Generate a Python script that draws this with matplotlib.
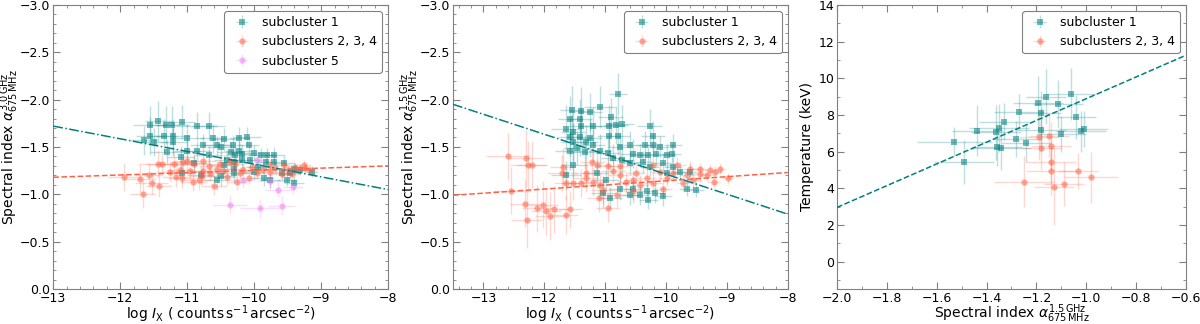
import matplotlib
matplotlib.use("Agg")
import matplotlib.pyplot as plt
import numpy as np
from matplotlib.ticker import MultipleLocator

# ---------------- panel 1: alpha(675 MHz - 3.0 GHz) vs log I_X ----------------
p1_s1_x = [-11.56, -11.43, -11.32, -11.22, -11.08, -10.85, -10.68, -11.56, -11.35, -11.21,
           -11.50, -11.65, -11.21, -11.00, -10.76, -10.61, -10.45, -10.10, -10.23, -10.50,
           -11.00, -11.30, -10.85, -10.68, -10.56, -10.31, -10.23, -10.08, -10.35, -10.28,
           -10.18, -10.00, -10.40, -10.30, -10.18, -10.06, -9.90, -9.81, -9.71, -9.83,
           -9.71, -9.56, -9.41, -9.46, -9.31, -9.14, -9.58, -9.76, -9.51, -9.41,
           -9.86, -10.30, -10.50, -10.80, -11.08, -10.90, -10.30, -10.45, -9.95, -10.56,
           -11.10, -10.00]
p1_s1_y = [-1.73, -1.77, -1.73, -1.73, -1.76, -1.72, -1.72, -1.62, -1.62, -1.62,
           -1.55, -1.57, -1.55, -1.59, -1.52, -1.59, -1.58, -1.61, -1.59, -1.50,
           -1.46, -1.45, -1.46, -1.41, -1.52, -1.52, -1.46, -1.52, -1.45, -1.41,
           -1.43, -1.44, -1.36, -1.34, -1.36, -1.36, -1.41, -1.41, -1.42, -1.34,
           -1.34, -1.33, -1.27, -1.22, -1.26, -1.24, -1.22, -1.15, -1.15, -1.12,
           -1.17, -1.22, -1.19, -1.20, -1.22, -1.33, -1.27, -1.31, -1.29, -1.15,
           -1.39, -1.24]
p1_s1_xerr = [0.25, 0.2, 0.2, 0.25, 0.2, 0.3, 0.25, 0.2, 0.2, 0.25,
              0.2, 0.2, 0.2, 0.25, 0.2, 0.2, 0.2, 0.2, 0.15, 0.2,
              0.2, 0.25, 0.2, 0.2, 0.2, 0.15, 0.2, 0.15, 0.2, 0.15,
              0.15, 0.2, 0.2, 0.15, 0.15, 0.15, 0.2, 0.15, 0.15, 0.15,
              0.15, 0.15, 0.15, 0.15, 0.15, 0.1, 0.15, 0.15, 0.15, 0.15,
              0.15, 0.2, 0.2, 0.2, 0.2, 0.2, 0.15, 0.2, 0.15, 0.2,
              0.2, 0.15]
p1_s1_yerr = [0.2, 0.22, 0.2, 0.2, 0.18, 0.15, 0.15, 0.2, 0.18, 0.18,
              0.15, 0.15, 0.15, 0.15, 0.12, 0.15, 0.12, 0.1, 0.12, 0.12,
              0.12, 0.12, 0.1, 0.1, 0.1, 0.1, 0.1, 0.08, 0.1, 0.1,
              0.08, 0.08, 0.1, 0.1, 0.08, 0.08, 0.08, 0.08, 0.08, 0.08,
              0.08, 0.08, 0.06, 0.06, 0.06, 0.06, 0.06, 0.08, 0.06, 0.06,
              0.08, 0.1, 0.1, 0.1, 0.1, 0.1, 0.08, 0.1, 0.08, 0.1,
              0.12, 0.08]

p1_s234_x = [-11.94, -11.71, -11.57, -11.53, -11.42, -11.66, -11.44, -11.37, -11.20, -11.26,
             -11.17, -11.11, -11.06, -11.00, -10.90, -10.91, -10.83, -10.77, -10.76, -10.66,
             -10.60, -10.51, -10.47, -10.41, -10.36, -10.28, -10.26, -10.16, -10.08, -10.03,
             -9.96, -9.87, -9.77, -9.69, -9.59, -9.49, -9.39, -9.31, -9.24, -9.17,
             -10.96, -11.08, -10.78, -10.56, -9.76, -9.44, -10.21, -10.68, -9.56, -9.26]
p1_s234_y = [-1.18, -1.16, -1.20, -1.12, -1.09, -1.00, -1.32, -1.32, -1.32, -1.24,
             -1.18, -1.26, -1.34, -1.35, -1.32, -1.13, -1.15, -1.35, -1.25, -1.23,
             -1.09, -1.32, -1.25, -1.18, -1.34, -1.32, -1.13, -1.26, -1.17, -1.29,
             -1.23, -1.27, -1.24, -1.28, -1.21, -1.26, -1.29, -1.27, -1.28, -1.26,
             -1.25, -1.17, -1.19, -1.27, -1.31, -1.21, -1.23, -1.30, -1.31, -1.31]
p1_s234_xerr = [0.25, 0.25, 0.2, 0.25, 0.2, 0.2, 0.3, 0.25, 0.25, 0.2,
                0.2, 0.2, 0.2, 0.2, 0.2, 0.2, 0.2, 0.2, 0.2, 0.15,
                0.2, 0.15, 0.15, 0.15, 0.15, 0.15, 0.15, 0.15, 0.15, 0.15,
                0.15, 0.15, 0.15, 0.12, 0.12, 0.12, 0.12, 0.1, 0.1, 0.1,
                0.2, 0.2, 0.2, 0.15, 0.12, 0.12, 0.15, 0.15, 0.12, 0.1]
p1_s234_yerr = [0.15, 0.15, 0.12, 0.12, 0.12, 0.15, 0.15, 0.12, 0.12, 0.1,
                0.1, 0.1, 0.1, 0.1, 0.1, 0.1, 0.1, 0.08, 0.08, 0.08,
                0.1, 0.08, 0.08, 0.08, 0.08, 0.06, 0.08, 0.06, 0.06, 0.06,
                0.06, 0.06, 0.06, 0.05, 0.05, 0.05, 0.05, 0.05, 0.05, 0.05,
                0.1, 0.1, 0.08, 0.08, 0.06, 0.05, 0.06, 0.08, 0.05, 0.05]

p1_s5_x = [-9.96, -10.17, -9.76, -9.64, -9.42, -10.36, -9.91, -9.59]
p1_s5_y = [-1.36, -1.15, -1.14, -1.05, -1.08, -0.89, -0.85, -0.88]
p1_s5_xerr = [0.15, 0.2, 0.2, 0.2, 0.15, 0.25, 0.3, 0.2]
p1_s5_yerr = [0.08, 0.08, 0.08, 0.08, 0.08, 0.1, 0.1, 0.1]

# fits: alpha = slope * logI + intercept
p1_fit_s1 = (0.134, 0.022)
p1_fit_s234 = (-0.024, -1.492)

# ---------------- panel 2: alpha(675 MHz - 1.5 GHz) vs log I_X ----------------
p2_s1_x = [-10.79, -11.09, -11.39, -11.54, -11.57, -11.42, -11.25, -10.91, -10.93, -10.82,
           -10.73, -10.27, -11.64, -11.53, -11.39, -11.20, -10.94, -10.79, -10.21, -11.58,
           -11.42, -11.25, -11.53, -11.31, -11.20, -11.58, -11.47, -11.33, -11.09, -10.95,
           -10.76, -10.59, -10.35, -10.21, -10.10, -10.54, -10.43, -10.29, -10.16, -9.99,
           -9.88, -9.91, -10.87, -10.73, -10.59, -10.38, -10.27, -10.05, -9.88, -9.77,
           -9.99, -9.61, -11.53, -11.64, -11.14, -10.98, -10.76, -10.54, -10.32, -10.18,
           -11.03, -10.92, -10.59, -10.43, -10.29, -10.05, -9.66, -9.50]
p2_s1_y = [-2.06, -1.92, -1.88, -1.89, -1.79, -1.79, -1.87, -1.82, -1.72, -1.73,
           -1.74, -1.72, -1.69, -1.66, -1.72, -1.72, -1.62, -1.62, -1.62, -1.60,
           -1.60, -1.59, -1.55, -1.55, -1.52, -1.46, -1.49, -1.45, -1.46, -1.44,
           -1.50, -1.52, -1.52, -1.52, -1.50, -1.43, -1.41, -1.41, -1.43, -1.41,
           -1.52, -1.43, -1.38, -1.36, -1.33, -1.34, -1.29, -1.33, -1.29, -1.24,
           -1.22, -1.24, -1.31, -1.20, -1.22, -1.15, -1.06, -1.06, -1.03, -1.01,
           -1.01, -0.96, -0.99, -0.99, -0.94, -0.98, -1.06, -1.05]
p2_s1_xerr = [0.15, 0.25, 0.2, 0.2, 0.2, 0.2, 0.2, 0.2, 0.25, 0.2,
              0.2, 0.2, 0.25, 0.2, 0.2, 0.25, 0.2, 0.2, 0.2, 0.2,
              0.2, 0.2, 0.2, 0.2, 0.2, 0.25, 0.2, 0.2, 0.2, 0.2,
              0.2, 0.2, 0.15, 0.15, 0.15, 0.2, 0.15, 0.15, 0.15, 0.15,
              0.15, 0.15, 0.2, 0.2, 0.15, 0.15, 0.15, 0.15, 0.15, 0.12,
              0.15, 0.12, 0.2, 0.25, 0.2, 0.2, 0.2, 0.15, 0.15, 0.15,
              0.2, 0.2, 0.15, 0.15, 0.15, 0.15, 0.12, 0.12]
p2_s1_yerr = [0.22, 0.22, 0.25, 0.25, 0.25, 0.22, 0.2, 0.2, 0.22, 0.2,
              0.2, 0.18, 0.25, 0.22, 0.2, 0.2, 0.2, 0.2, 0.15, 0.2,
              0.2, 0.2, 0.2, 0.18, 0.18, 0.2, 0.18, 0.18, 0.18, 0.15,
              0.15, 0.15, 0.15, 0.12, 0.12, 0.15, 0.12, 0.12, 0.12, 0.12,
              0.12, 0.1, 0.15, 0.15, 0.12, 0.12, 0.1, 0.1, 0.1, 0.1,
              0.1, 0.08, 0.15, 0.15, 0.15, 0.12, 0.12, 0.12, 0.1, 0.1,
              0.15, 0.12, 0.1, 0.1, 0.1, 0.1, 0.08, 0.08]

p2_s234_x = [-12.60, -12.54, -12.30, -12.27, -12.20, -12.31, -12.29, -12.12, -12.02, -11.97,
             -11.90, -11.84, -11.65, -11.58, -11.71, -11.70, -11.64, -11.53, -11.39, -11.31,
             -11.20, -11.21, -11.14, -11.09, -11.03, -11.10, -10.95, -10.87, -10.95, -10.76,
             -10.76, -10.65, -10.54, -10.49, -10.43, -10.32, -10.21, -10.10, -9.99, -9.88,
             -9.72, -9.66, -9.55, -9.44, -9.33, -9.28, -9.20, -9.11, -8.98, -9.22,
             -9.44, -9.60, -9.82, -10.21, -10.54, -10.81, -10.05, -11.31]
p2_s234_y = [-1.40, -1.04, -1.38, -1.31, -1.31, -0.90, -0.73, -0.85, -0.89, -0.82,
             -0.77, -0.84, -0.78, -0.84, -1.22, -1.29, -1.12, -1.12, -1.12, -1.17,
             -1.13, -1.34, -1.31, -1.10, -1.05, -0.96, -0.86, -1.25, -1.30, -1.20,
             -1.30, -1.13, -1.15, -1.22, -1.10, -1.17, -1.12, -1.24, -1.17, -1.22,
             -1.12, -1.20, -1.15, -1.21, -1.20, -1.26, -1.24, -1.27, -1.17, -1.13,
             -1.27, -1.27, -1.31, -1.31, -1.03, -0.99, -1.06, -1.22]
p2_s234_xerr = [0.35, 0.3, 0.3, 0.3, 0.25, 0.25, 0.25, 0.25, 0.25, 0.25,
                0.25, 0.25, 0.2, 0.2, 0.25, 0.2, 0.2, 0.2, 0.2, 0.2,
                0.2, 0.2, 0.2, 0.2, 0.2, 0.2, 0.2, 0.2, 0.2, 0.2,
                0.2, 0.15, 0.15, 0.15, 0.15, 0.15, 0.15, 0.15, 0.15, 0.15,
                0.12, 0.12, 0.12, 0.12, 0.12, 0.1, 0.1, 0.1, 0.1, 0.1,
                0.12, 0.12, 0.15, 0.15, 0.15, 0.2, 0.15, 0.2]
p2_s234_yerr = [0.25, 0.25, 0.3, 0.25, 0.25, 0.25, 0.3, 0.25, 0.25, 0.25,
                0.25, 0.25, 0.2, 0.2, 0.2, 0.2, 0.18, 0.18, 0.15, 0.15,
                0.15, 0.15, 0.15, 0.15, 0.15, 0.15, 0.15, 0.12, 0.12, 0.12,
                0.12, 0.12, 0.1, 0.1, 0.1, 0.1, 0.1, 0.1, 0.08, 0.08,
                0.08, 0.08, 0.08, 0.08, 0.06, 0.06, 0.06, 0.06, 0.06, 0.06,
                0.06, 0.08, 0.08, 0.1, 0.12, 0.12, 0.1, 0.15]

p2_fit_s1 = (0.2109, 0.897)
p2_fit_s234 = (-0.04364, -1.579)

# ---------------- panel 3: temperature vs alpha(675 MHz - 1.5 GHz) ----------------
p3_s1_x = [-1.529, -1.489, -1.438, -1.361, -1.350, -1.358, -1.341, -1.331, -1.271, -1.280,
           -1.240, -1.192, -1.162, -1.182, -1.182, -1.112, -1.061, -1.041, -1.102, -1.020,
           -1.011]
p3_s1_y = [6.54, 5.42, 7.14, 7.05, 7.28, 6.23, 6.20, 7.62, 8.16, 6.68,
           6.45, 8.62, 8.98, 8.09, 7.17, 8.58, 9.14, 7.86, 6.95, 7.10,
           7.23]
p3_s1_xerr = [0.15, 0.12, 0.1, 0.1, 0.12, 0.1, 0.12, 0.1, 0.1, 0.1,
              0.1, 0.1, 0.08, 0.08, 0.1, 0.1, 0.1, 0.08, 0.1, 0.1,
              0.1]
p3_s1_yerr = [0.8, 1.2, 1.4, 1.5, 1.3, 1.0, 1.2, 1.0, 1.0, 1.0,
              1.0, 1.5, 1.5, 1.2, 1.2, 1.3, 1.4, 1.2, 1.0, 1.1,
              1.0]

p3_s234_x = [-1.191, -1.151, -1.182, -1.142, -1.142, -1.142, -1.032, -0.981, -1.250, -1.131,
             -1.091]
p3_s234_y = [6.81, 6.85, 6.20, 6.30, 5.42, 4.95, 4.93, 4.59, 4.35, 4.08,
             4.23]
p3_s234_xerr = [0.08, 0.08, 0.08, 0.08, 0.1, 0.1, 0.08, 0.11, 0.12, 0.08,
                0.08]
p3_s234_yerr = [1.3, 1.2, 1.2, 1.3, 1.2, 1.3, 1.0, 1.4, 1.4, 2.1,
                1.2]

p3_fit_s1 = (5.929, 14.81)

TEAL = "#008080"
TOMATO = "#ff6347"
VIOLET = "#ee82ee"
TICK_FS = 9
LABEL_FS = 10


def draw_errors(ax, x, y, xerr, yerr, color, marker, label):
    line, caps, bars = ax.errorbar(x, y, xerr=xerr, yerr=yerr, fmt=marker, color=color,
                                   ms=4.5, mew=0, elinewidth=1.0, capsize=1.5,
                                   capthick=0.8, ecolor=color, label=label, zorder=2)
    line.set_alpha(0.55)
    for c in caps:
        c.set_alpha(0.3)
    for b in bars:
        b.set_alpha(0.25)


def draw_fit(ax, fit, xlim, color, ls):
    xs = np.linspace(xlim[0], xlim[1], 50)
    ax.plot(xs, fit[0] * xs + fit[1], color=color, ls=ls, lw=1.1, zorder=3)


def style_axes(ax, xmaj, xmin, ymaj, ymin):
    ax.xaxis.set_major_locator(MultipleLocator(xmaj))
    ax.xaxis.set_minor_locator(MultipleLocator(xmin))
    ax.yaxis.set_major_locator(MultipleLocator(ymaj))
    ax.yaxis.set_minor_locator(MultipleLocator(ymin))
    ax.tick_params(which="both", direction="in", top=True, right=True,
                   color="gray", labelsize=TICK_FS, pad=2)
    ax.tick_params(which="major", length=5)
    ax.tick_params(which="minor", length=2.5)
    for sp in ax.spines.values():
        sp.set_color("gray")
    leg = ax.legend(loc="upper right", fontsize=9, framealpha=1.0,
                    edgecolor="gray", fancybox=True, handletextpad=0.6)
    leg.get_frame().set_linewidth(0.8)


fig = plt.figure(figsize=(12, 3.24), dpi=100)
ax1 = fig.add_axes([0.0444, 0.108, 0.2790, 0.877])
ax2 = fig.add_axes([0.3775, 0.108, 0.2790, 0.877])
ax3 = fig.add_axes([0.6975, 0.108, 0.2908, 0.877])

ix_label = r"log $I_{\rm X}$ ( counts$\,$s$^{-1}\,$arcsec$^{-2}$)"

# panel 1
xl1 = (-13, -8)
draw_errors(ax1, p1_s1_x, p1_s1_y, p1_s1_xerr, p1_s1_yerr, TEAL, "s", "subcluster 1")
draw_errors(ax1, p1_s234_x, p1_s234_y, p1_s234_xerr, p1_s234_yerr, TOMATO, "o",
            "subclusters 2, 3, 4")
draw_errors(ax1, p1_s5_x, p1_s5_y, p1_s5_xerr, p1_s5_yerr, VIOLET, "o", "subcluster 5")
draw_fit(ax1, p1_fit_s1, xl1, TEAL, "-.")
draw_fit(ax1, p1_fit_s234, xl1, TOMATO, "--")
ax1.set_xlim(*xl1)
ax1.set_ylim(0, -3)
ax1.set_xlabel(ix_label, fontsize=LABEL_FS)
ax1.set_ylabel(r"Spectral index $\alpha_{675\,\mathrm{MHz}}^{3.0\,\mathrm{GHz}}$",
               fontsize=LABEL_FS)
style_axes(ax1, 1, 0.2, 0.5, 0.1)

# panel 2
xl2 = (-13.5, -8)
draw_errors(ax2, p2_s1_x, p2_s1_y, p2_s1_xerr, p2_s1_yerr, TEAL, "s", "subcluster 1")
draw_errors(ax2, p2_s234_x, p2_s234_y, p2_s234_xerr, p2_s234_yerr, TOMATO, "o",
            "subclusters 2, 3, 4")
draw_fit(ax2, p2_fit_s1, xl2, TEAL, "-.")
draw_fit(ax2, p2_fit_s234, xl2, TOMATO, "--")
ax2.set_xlim(*xl2)
ax2.set_ylim(0, -3)
ax2.set_xlabel(ix_label, fontsize=LABEL_FS)
ax2.set_ylabel(r"Spectral index $\alpha_{675\,\mathrm{MHz}}^{1.5\,\mathrm{GHz}}$",
               fontsize=LABEL_FS)
style_axes(ax2, 1, 0.2, 0.5, 0.1)

# panel 3
xl3 = (-2.0, -0.6)
draw_errors(ax3, p3_s1_x, p3_s1_y, p3_s1_xerr, p3_s1_yerr, TEAL, "s", "subcluster 1")
draw_errors(ax3, p3_s234_x, p3_s234_y, p3_s234_xerr, p3_s234_yerr, TOMATO, "o",
            "subclusters 2, 3, 4")
draw_fit(ax3, p3_fit_s1, xl3, TEAL, "--")
ax3.set_xlim(*xl3)
ax3.set_ylim(-1.5, 14)
ax3.set_xlabel(r"Spectral index $\alpha_{675\,\mathrm{MHz}}^{1.5\,\mathrm{GHz}}$",
               fontsize=LABEL_FS)
ax3.set_ylabel("Temperature (keV)", fontsize=LABEL_FS)
style_axes(ax3, 0.2, 0.1, 2, 1)

# label placement (axes fraction), cramped as in the original
for ax in (ax1, ax2):
    ax.xaxis.set_label_coords(0.5, -0.052)
    ax.yaxis.set_label_coords(-0.095, 0.5)
ax3.xaxis.set_label_coords(0.5, -0.048)
ax3.yaxis.set_label_coords(-0.066, 0.5)

fig.savefig("out.png", dpi=100)
